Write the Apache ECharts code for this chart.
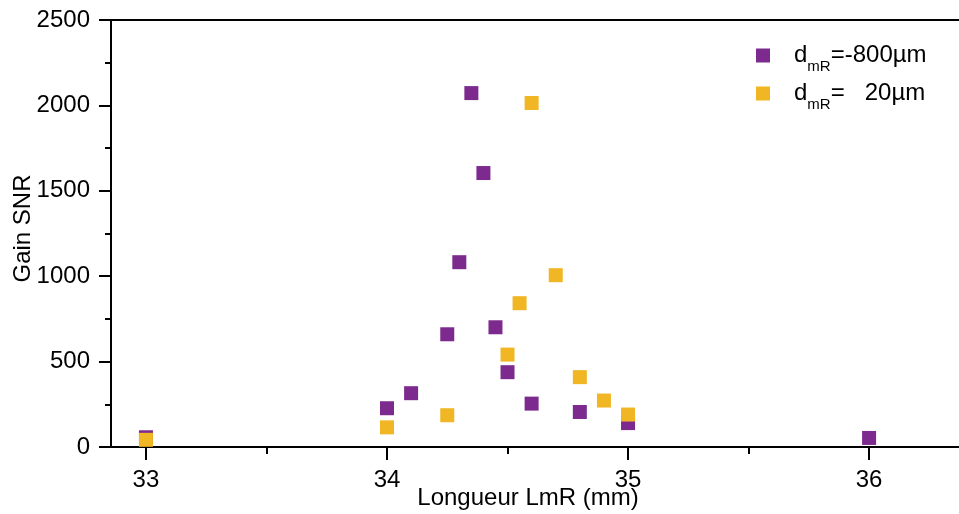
<!DOCTYPE html>
<html>
<head>
<meta charset="utf-8">
<script src="https://cdn.jsdelivr.net/npm/echarts@6/dist/echarts.min.js"></script>
<style>
html, body { margin: 0; padding: 0; background: #fff; }
#snrChart { width: 959px; height: 514px; }
</style>
</head>
<body>
<div id="snrChart"></div>
<script>
// longueur LmR (mm) / gain SNR
var purpleX = [33, 34, 34.1, 34.25, 34.3, 34.35, 34.4, 34.45, 34.5, 34.6, 34.8, 35, 36];
var purpleY = [57, 227, 315, 660, 1082, 2072, 1604, 701, 438, 254, 205, 140, 53];
var yellowX = [33, 34, 34.25, 34.5, 34.55, 34.6, 34.7, 34.8, 34.9, 35];
var yellowY = [42, 115, 186, 541, 842, 2014, 1006, 409, 272, 190];
var xTicks = [33, 34, 35, 36];
var xMinorTicks = [33.5, 34.5, 35.5];
var seriesNames = ['dmR=-800µm', 'dmR=   20µm'];

function pairs(xs, ys) {
    var out = [];
    for (var i = 0; i < xs.length; i++) {
        out.push([xs[i], ys[i]]);
    }
    return out;
}

var chart = echarts.init(document.getElementById('snrChart'));
var font = '"Liberation Sans", Arial, sans-serif';
var xMin = 32.855, xMax = 36.373;

var option = {
    animation: false,
    textStyle: { fontFamily: font },
    grid: { left: 111, right: 0, top: 20, bottom: 67, containLabel: false, outerBoundsMode: 'none' },
    legend: {
        left: 756,
        top: 37,
        padding: 0,
        orient: 'vertical',
        itemWidth: 14,
        itemHeight: 14,
        itemGap: 1,
        icon: 'rect',
        data: seriesNames,
        formatter: function (name) {
            return '{s|}{a|d}{b|mR}{a|' + name.slice(3) + '}';
        },
        textStyle: {
            rich: {
                s: { width: 19 },
                a: { fontSize: 24, color: '#000', fontFamily: font, lineHeight: 30 },
                b: { fontSize: 15, color: '#000', fontFamily: font, lineHeight: 10, padding: [22, 0, 0, 0] }
            }
        }
    },
    xAxis: [{
        type: 'value',
        min: xMin,
        max: xMax,
        name: 'Longueur LmR (mm)',
        nameLocation: 'middle',
        nameGap: 39,
        nameMoveOverlap: false,
        nameTextStyle: { fontSize: 24, color: '#000', padding: [0, 14, 0, 0] },
        splitLine: { show: false },
        axisLine: { onZero: false, lineStyle: { color: '#000', width: 2 } },
        axisTick: { customValues: xTicks, length: 13, lineStyle: { color: '#000', width: 2 } },
        axisLabel: { customValues: xTicks, fontSize: 24, color: '#000', margin: 21 }
    }, {
        type: 'value',
        position: 'bottom',
        min: xMin,
        max: xMax,
        splitLine: { show: false },
        axisLine: { show: false },
        axisTick: { customValues: xMinorTicks, length: 7, lineStyle: { color: '#000', width: 2 } },
        axisLabel: { show: false }
    }, {
        type: 'value',
        position: 'top',
        min: xMin,
        max: xMax,
        splitLine: { show: false },
        axisLine: { onZero: false, lineStyle: { color: '#000', width: 2 } },
        axisTick: { show: false },
        axisLabel: { show: false }
    }],
    yAxis: {
        type: 'value',
        min: 0,
        max: 2500,
        interval: 500,
        name: 'Gain SNR',
        nameLocation: 'middle',
        nameGap: 76,
        nameMoveOverlap: false,
        nameTextStyle: { fontSize: 24, color: '#000', padding: [0, 0, 0, 10] },
        splitLine: { show: false },
        axisLine: { lineStyle: { color: '#000', width: 2 } },
        axisTick: { length: 12, lineStyle: { color: '#000', width: 2 } },
        minorTick: { show: true, splitNumber: 2, length: 6, lineStyle: { color: '#000', width: 2 } },
        axisLabel: {
            fontSize: 24,
            color: '#000',
            margin: 21,
            formatter: function (v) { return String(v); }
        }
    },
    series: [{
        name: seriesNames[0],
        type: 'scatter',
        symbol: 'rect',
        symbolSize: 14,
        itemStyle: { color: '#7D2A8E', opacity: 1 },
        data: pairs(purpleX, purpleY)
    }, {
        name: seriesNames[1],
        type: 'scatter',
        symbol: 'rect',
        symbolSize: 14,
        itemStyle: { color: '#F0B623', opacity: 1 },
        data: pairs(yellowX, yellowY)
    }]
};
chart.setOption(option);
window.addEventListener('resize', chart.resize);
</script>
</body>
</html>
